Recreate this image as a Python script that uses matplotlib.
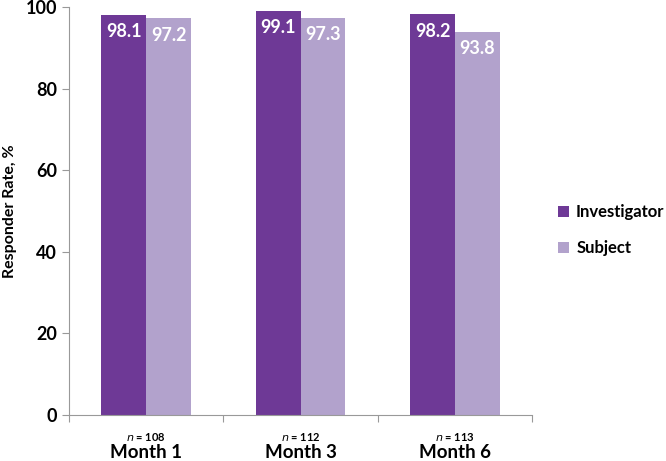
import matplotlib
matplotlib.use("Agg")
import matplotlib.pyplot as plt
import numpy as np

plt.rcParams['font.family'] = ['Lato', 'DejaVu Sans']

months = ['Month 1', 'Month 3', 'Month 6']
n_values = [108, 112, 113]
investigator = [98.1, 99.1, 98.2]
subject = [97.2, 97.3, 93.8]

c_inv = '#6e3996'
c_sub = '#b2a2cc'

fig = plt.figure(figsize=(6.66, 4.61), dpi=100)
ax = fig.add_axes([0.1036, 0.0998, 0.6955, 0.885])

x = np.arange(len(months))
w = 0.29
b1 = ax.bar(x - w / 2, investigator, w, color=c_inv, label='Investigator')
b2 = ax.bar(x + w / 2, subject, w, color=c_sub, label='Subject')

for bars, vals in ((b1, investigator), (b2, subject)):
    for r, v in zip(bars, vals):
        ax.text(r.get_x() + r.get_width() / 2, v - 2.0, f'{v:.1f}',
                ha='center', va='top', color='white', fontsize=13, fontweight='bold')

ax.set_xlim(-0.5, len(months) - 0.5)
ax.set_ylim(0, 100)
ax.set_yticks([0, 20, 40, 60, 80, 100])
ax.set_xticks([-0.5, 0.5, 1.5, 2.5])
ax.set_xticklabels([])
ax.tick_params(axis='x', length=5, color='#999999', direction='out')
ax.tick_params(axis='y', length=5, color='#999999', direction='out', labelsize=13)
for lab in ax.get_yticklabels():
    lab.set_fontweight('bold')

for s in ('top', 'right'):
    ax.spines[s].set_visible(False)
for s in ('left', 'bottom'):
    ax.spines[s].set_color('#999999')

ax.set_ylabel('Responder Rate, %', fontsize=11.5, fontweight='bold', labelpad=6)

trans = ax.get_xaxis_transform()
for i, (m, n) in enumerate(zip(months, n_values)):
    ax.text(i, -0.054, f'$\\mathit{{n}}$ = {n}', transform=trans, ha='center', va='center',
            fontsize=8, fontweight='bold')
    ax.text(i, -0.092, m, transform=trans, ha='center', va='center',
            fontsize=13.5, fontweight='bold')

leg = fig.legend(loc='center left', bbox_to_anchor=(0.815, 0.5), frameon=False,
                 fontsize=12, handlelength=0.7, handleheight=0.7, handletextpad=0.4,
                 labelspacing=1.2)
for t in leg.get_texts():
    t.set_fontweight('bold')

fig.savefig('out.png', dpi=100)
